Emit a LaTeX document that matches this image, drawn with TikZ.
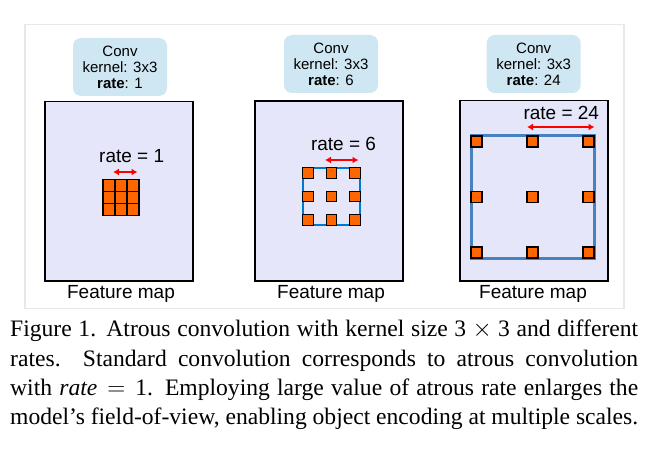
\documentclass[tikz,border=0pt]{standalone}
\usepackage{fontspec}
\setmainfont{Liberation Serif}
\setsansfont{Liberation Sans}
\usetikzlibrary{arrows.meta}
\definecolor{convblue}{RGB}{207,230,243}
\definecolor{fmfill}{RGB}{230,230,250}
\definecolor{korange}{RGB}{255,102,0}
\definecolor{rblue}{RGB}{0,120,210}
\definecolor{sblue}{RGB}{70,130,190}
\definecolor{framegray}{RGB}{232,232,232}
\tikzset{
  convbox/.style={draw=none, fill=convblue, rounded corners=8pt, minimum width=94pt, minimum height=58pt, align=center, inner sep=0pt, font=\sffamily\fontsize{15}{16}\selectfont},
  fmbox/.style={draw=black, fill=fmfill, line width=1.6pt},
  ratelbl/.style={anchor=base, inner sep=0pt, font=\sffamily\fontsize{19}{22}\selectfont},
  fmlbl/.style={anchor=base, inner sep=0pt, font=\sffamily\fontsize{19}{22}\selectfont},
  cell/.style={draw=black, fill=korange, line width=1.2pt, minimum size=#1, inner sep=0pt},
  ratearrow/.style={draw=red, line width=2.4pt, {Latex[length=6pt,width=7pt]}-{Latex[length=6pt,width=7pt]}},
}
\begin{document}
\begin{tikzpicture}[x=1pt,y=-1pt]
\useasboundingbox (0,0) rectangle (669,465);
% outer frame
\draw[framegray, line width=1.5pt] (25,24.3) rectangle (624,308.3);

% ---------- Panel 1 ----------
\node[convbox] (conv1) at (120,67) {Conv\\kernel: 3x3\\\textbf{rate}: 1};
\draw[fmbox] (44.7,101.7) rectangle (192.7,280.7);
\node[ratelbl] (r1) at (131.7,162.7) {rate = 1};
\coordinate (a1l) at (113,172);
\coordinate (a1r) at (137.5,172);
\draw[ratearrow] (a1l) -- (a1r);
\draw[rblue, line width=1.2pt, fill=korange] (102.8,179.3) rectangle (139.2,215.7);
\foreach \i in {0,1,2} \foreach \j in {0,1,2}
  \node[cell=12pt, line width=1.5pt] (g1-\i-\j) at (109+12*\i,185.5+12*\j) {};
\node[fmlbl] (fm1) at (121,298) {Feature map};

% ---------- Panel 2 ----------
\node[convbox] (conv2) at (331,64) {Conv\\kernel: 3x3\\\textbf{rate}: 6};
\draw[fmbox] (254.7,101) rectangle (402.7,280.7);
\node[ratelbl] (r2) at (343.5,150.7) {rate = 6};
\coordinate (a2l) at (325,160);
\coordinate (a2r) at (358.5,160);
\draw[ratearrow] (a2l) -- (a2r);
\draw[rblue, line width=2pt] (303,168) rectangle (360,225);
\foreach \x [count=\i] in {308,331.5,355} \foreach \y [count=\j] in {173,196.5,220}
  \node[cell=10.5pt] (g2-\i-\j) at (\x,\y) {};
\node[fmlbl] (fm2) at (331,298) {Feature map};

% ---------- Panel 3 ----------
\node[convbox] (conv3) at (533.7,64) {Conv\\kernel: 3x3\\\textbf{rate}: 24};
\draw[fmbox] (460,100.7) rectangle (607.7,280.7);
\node[ratelbl] (r3) at (561.3,120) {rate = 24};
\coordinate (a3l) at (527,127);
\coordinate (a3r) at (594.5,127);
\draw[ratearrow] (a3l) -- (a3r);
\draw[sblue, line width=3pt] (471,136) rectangle (594,258);
\foreach \x [count=\i] in {476.5,532.5,588.5} \foreach \y [count=\j] in {141.5,197,252.5}
  \node[cell=11pt] (g3-\i-\j) at (\x,\y) {};
\node[fmlbl] (fm3) at (533,298) {Feature map};

% ---------- Caption ----------
\node[anchor=base west, inner sep=0pt] (cap) at (10,336.7) {\parbox[t]{628pt}{\fontsize{23.6}{29.4}\selectfont\rmfamily
Figure 1. Atrous convolution with kernel size $\mbox{3}\times\mbox{3}$ and different\linebreak[4]
rates.\ \ Standard convolution corresponds to atrous convolution\linebreak[4]
with $\textit{rate}=\mbox{1}$. Employing large value of atrous rate enlarges the\linebreak[4]
model's field-of-view, enabling object encoding at multiple scales.}};
\end{tikzpicture}
\end{document}
